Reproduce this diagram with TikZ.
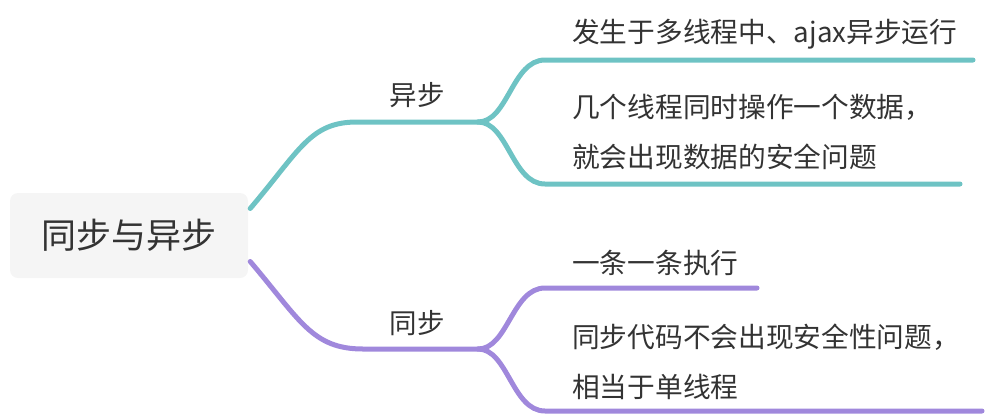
\documentclass[tikz,border=0pt]{standalone}
\usepackage{fontspec}
\setmainfont{Noto Sans CJK SC}
\usepackage{xcolor}
\definecolor{mapteal}{RGB}{110,195,196}
\definecolor{mappurple}{RGB}{160,136,220}
\definecolor{maptext}{RGB}{51,51,51}
\definecolor{rootfill}{RGB}{245,245,245}

\begin{document}
\begin{tikzpicture}[x=1pt, y=-1pt,
    rootbox/.style={fill=rootfill, rounded corners=8pt, minimum width=238pt, minimum height=85pt, inner sep=0pt, text=maptext, font=\fontsize{35}{42}\selectfont},
    topic/.style={text=maptext, inner sep=0pt, font=\fontsize{27.5}{32}\selectfont},
    leaf/.style={text=maptext, inner sep=0pt, anchor=west, align=left, font=\fontsize{27.7}{50}\selectfont},
    tealline/.style={draw=mapteal, line width=5pt, line cap=round},
    purpleline/.style={draw=mappurple, line width=5pt, line cap=round}]

    \useasboundingbox (0,0) rectangle (990,416);

    % Central topic
    \node[rootbox] (root) at (129,235.5) {同步与异步};

    % Main topics
    \node[topic] (asyn) at (417,95) {异步};
    \node[topic] (syn) at (417,323) {同步};

    % Subtopics
    \node[leaf] (a1) at (572,34) {发生于多线程中、ajax异步运行};
    \node[leaf] (a2) at (572,132) {几个线程同时操作一个数据，\\就会出现数据的安全问题};
    \node[leaf] (s1) at (572,263) {一条一条执行};
    \node[leaf] (s2) at (572,362) {同步代码不会出现安全性问题，\\相当于单线程};

    % Fork points and line ends
    \coordinate (asynfork) at (478,122);
    \coordinate (synfork) at (478,349);
    \coordinate (a1end) at (973,60);
    \coordinate (a2end) at (960,184);
    \coordinate (s1end) at (757,288);
    \coordinate (s2end) at (982,411);

    % Root to main topics
    \draw[tealline] ([xshift=2pt,yshift=27pt]root.east) .. controls (300,150) and (310,122) .. (357,122) -- (asynfork);
    \draw[purpleline] ([xshift=2pt,yshift=-26pt]root.east) .. controls (300,320) and (312,349) .. (363,349) -- (synfork);

    % Main topics to subtopics
    \draw[tealline] (asynfork) .. controls (508,122) and (512,60) .. (545,60) -- (a1end);
    \draw[tealline] (asynfork) .. controls (508,122) and (512,184) .. (545,184) -- (a2end);
    \draw[purpleline] (synfork) .. controls (508,349) and (512,288) .. (545,288) -- (s1end);
    \draw[purpleline] (synfork) .. controls (508,349) and (512,411) .. (545,411) -- (s2end);
\end{tikzpicture}
\end{document}
